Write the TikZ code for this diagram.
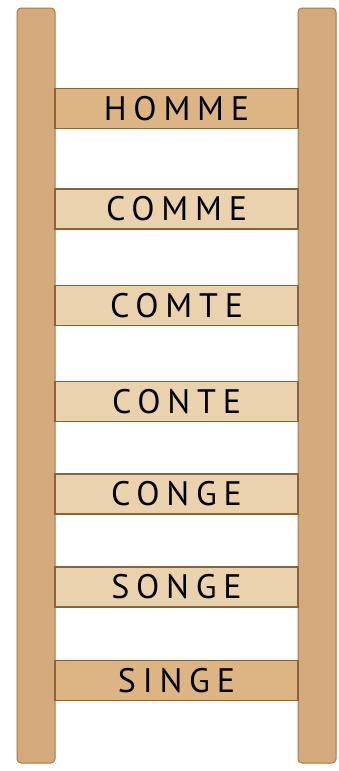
\documentclass[tikz,border=0pt]{standalone}
\usepackage{fontspec}
\usetikzlibrary{positioning}
\newfontfamily\rungfont[LetterSpace=20]{PT Sans}
\definecolor{railwood}{HTML}{D4A97B}
\definecolor{railedge}{HTML}{A8784A}
\definecolor{rungdark}{HTML}{DDB584}
\definecolor{runglight}{HTML}{EBD2AE}
\definecolor{rungedge}{HTML}{8C6239}

\begin{document}
\begin{tikzpicture}[x=1pt,y=-1pt,
  rail/.style={draw=railedge,fill=railwood,line width=1pt,rounded corners=4pt},
  rung/.style={draw=rungedge,line width=1.2pt,minimum width=243pt,minimum height=40pt,
    inner sep=0pt,font=\rungfont\fontsize{34}{34}\selectfont,text=black},
  rungd/.style={rung,fill=rungdark},
  rungl/.style={rung,fill=runglight}]
\useasboundingbox (0,0) rectangle (339,771);
% rails
\draw[rail] (17,8) rectangle (55,763);
\draw[rail] (298,8) rectangle (336,763);
% rungs
\node[rungd] (homme) at (176.5,108.5) {HOMME};
\node[rungl] (comme) at (176.5,209.0) {COMME};
\node[rungl] (comte) at (176.5,305.5) {COMTE};
\node[rungl] (conte) at (176.5,401.5) {CONTE};
\node[rungl] (conge) at (176.5,494.0) {CONGE};
\node[rungl] (songe) at (176.5,587.0) {SONGE};
\node[rungd] (singe) at (176.5,680.5) {SINGE};
\end{tikzpicture}
\end{document}
